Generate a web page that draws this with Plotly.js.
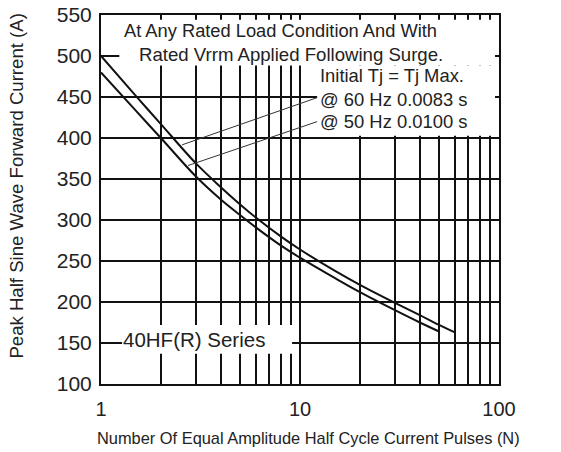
<!DOCTYPE html>
<html>
<head>
<meta charset="utf-8">
<script src="https://cdn.plot.ly/plotly-3.0.1.min.js"></script>
<style>html,body{margin:0;padding:0;background:#fff;}#chart{width:561px;height:452px;}</style>
</head>
<body>
<div id="chart"></div>
<script>
// Data (N pulses vs. peak current, A)
const pulses60 = [1, 1.5, 2, 3, 4, 5, 6, 8, 10, 15, 20, 30, 40, 50, 60];
const current60 = [500, 451, 417, 369, 340, 319, 303, 280, 264, 238, 221, 199, 184, 172, 163];
const pulses50 = [1, 1.5, 2, 3, 4, 5, 6, 8, 10, 15, 20, 30, 40, 50];
const current50 = [480, 433, 400, 353, 325, 306, 291, 269, 254, 229, 212, 190, 175, 164];

const xTickVals = [1,2,3,4,5,6,7,8,9,10,20,30,40,50,60,70,80,90,100];
const xTickText = ['1','','','','','','','','','10','','','','','','','','','100'];
const yTickVals = [100,150,200,250,300,350,400,450,500,550];

const FONT = 'Liberation Sans, Arial, sans-serif';
const INK = '#111';
const TXT = '#222';

const traces = [
  {x: pulses60, y: current60, type: 'scatter', mode: 'lines', name: '60 Hz',
   line: {color: INK, width: 2, shape: 'spline', smoothing: 1}, hoverinfo: 'skip'},
  {x: pulses50, y: current50, type: 'scatter', mode: 'lines', name: '50 Hz',
   line: {color: INK, width: 2, shape: 'spline', smoothing: 1}, hoverinfo: 'skip'}
];

function whiteBox(x0, x1, y0, y1) {
  return {type: 'rect', xref: 'paper', yref: 'paper', x0: x0, x1: x1, y0: y0, y1: y1,
          fillcolor: '#fff', line: {width: 0}, layer: 'above'};
}
function leader(x0, y0, x1, y1) {
  return {type: 'line', xref: 'paper', yref: 'paper', x0: x0, y0: y0, x1: x1, y1: y1,
          line: {color: '#333', width: 1}, layer: 'above'};
}
function note(text, x, y, anchor, size) {
  return {text: text, xref: 'paper', yref: 'paper', x: x, y: y, xanchor: anchor,
          yanchor: 'middle', showarrow: false, font: {family: FONT, size: size, color: TXT}};
}

const layout = {
  width: 561, height: 452,
  margin: {l: 101, r: 62, t: 15, b: 68},
  paper_bgcolor: '#fff', plot_bgcolor: '#fff',
  showlegend: false,
  font: {family: FONT, color: INK},
  xaxis: {
    type: 'log', range: [0, 2],
    tickmode: 'array', tickvals: xTickVals, ticktext: xTickText,
    showgrid: true, gridcolor: INK, gridwidth: 1.6,
    showline: true, mirror: true, linecolor: INK, linewidth: 2,
    ticks: '', zeroline: false,
    tickfont: {family: FONT, size: 20, color: TXT},
    ticklabelstandoff: 6
  },
  yaxis: {
    range: [100, 550],
    tickmode: 'array', tickvals: yTickVals,
    showgrid: true, gridcolor: INK, gridwidth: 1.6,
    showline: true, mirror: true, linecolor: INK, linewidth: 2,
    ticks: '', zeroline: false,
    tickfont: {family: FONT, size: 21, color: TXT},
    ticklabelstandoff: 3
  },
  shapes: [
    whiteBox(0.046, 0.99, 0.863, 0.987),
    whiteBox(0.543, 0.99, 0.673, 0.863),
    whiteBox(0.053, 0.48, 0.082, 0.160),
    leader(0.2035, 0.648, 0.543, 0.776),
    leader(0.2186, 0.592, 0.543, 0.711)
  ],
  annotations: [
    note('At Any Rated Load Condition And With', 0.450, 0.957, 'center', 18.3),
    note('Rated Vrrm Applied Following Surge.', 0.477, 0.894, 'center', 18.6),
    note('Initial Tj = Tj Max.', 0.545, 0.835, 'left', 18.4),
    note('@ 60 Hz 0.0083 s', 0.545, 0.770, 'left', 18.4),
    note('@ 50 Hz 0.0100 s', 0.545, 0.711, 'left', 18.4),
    note('40HF(R) Series', 0.050, 0.120, 'left', 20.5),
    note('Number Of Equal Amplitude Half Cycle Current Pulses (N)', 0.521, -0.1455, 'center', 16.4),
    Object.assign(note('Peak Half Sine Wave Forward Current (A)', -0.211, 0.535, 'center', 18.6),
      {textangle: -90})
  ]
};

Plotly.newPlot('chart', traces, layout, {staticPlot: true, displayModeBar: false});
</script>
</body>
</html>
